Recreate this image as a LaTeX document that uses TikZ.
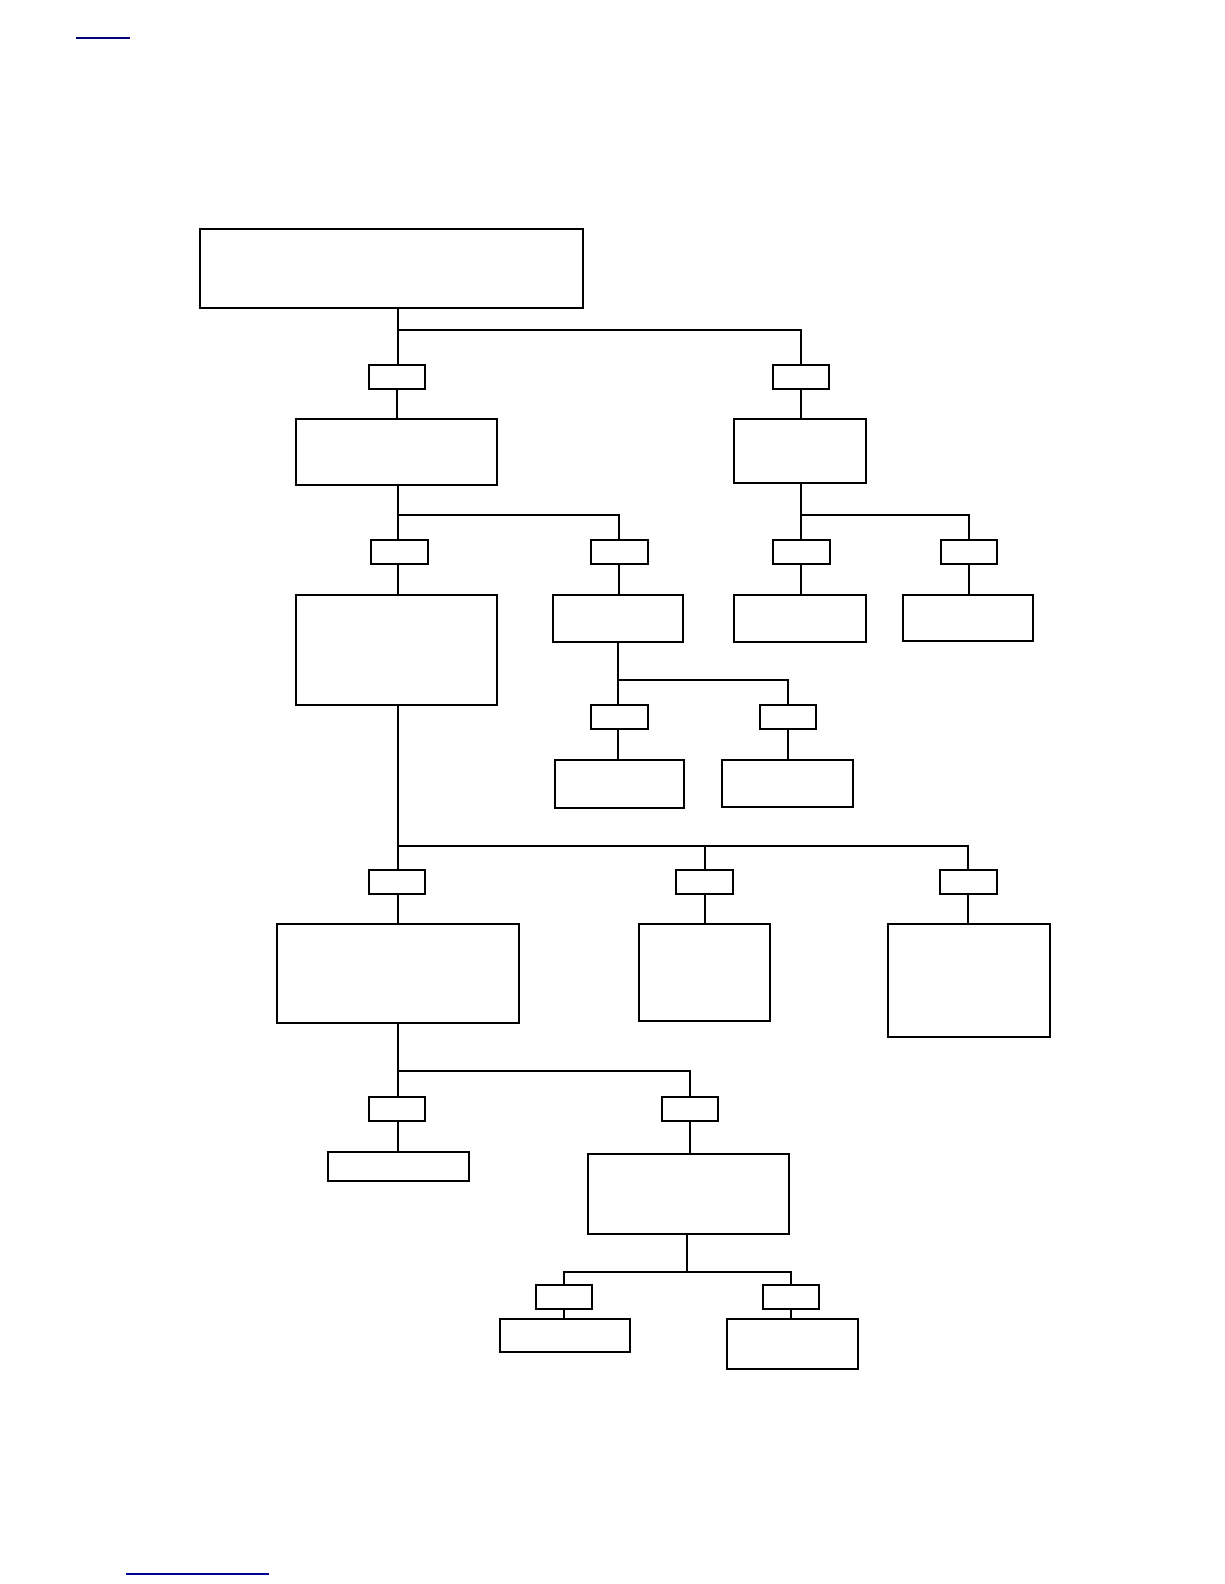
\documentclass[tikz,border=0pt]{standalone}
\usepackage{tikz}
\usetikzlibrary{positioning}

\begin{document}
\begin{tikzpicture}[
    x=0.50495pt, y=-0.50495pt,
    box/.style 2 args={draw, line width=1pt, inner sep=0pt, minimum width=#1*0.50495pt, minimum height=#2*0.50495pt},
    tag/.style={box={56}{24}},
    link/.style={line width=1pt},
    under/.style={line width=1pt, draw=#1}
]
\useasboundingbox (0,0) rectangle (1212,1568);
% underlines of the two links
\draw[under={blue!45!black}] (75,38) -- (129,38);
\draw[under={blue!60!black}] (125,1558) -- (266,1558);

% root and first split
\node[box={379}{78}] (root) at (387.5,266) {};
\node[tag] (t1) at (393,373) {};
\node[tag] (t2) at (793,373) {};
\node[box={199}{65}] (b1) at (392.5,447.5) {};
\node[box={130}{63}] (b2) at (792,446.5) {};
\coordinate (f0) at (394,327);
\draw[link] (root.south -| f0) -- (f0) -| (t2.north);
\draw[link] (f0) -- (t1.north -| f0);
\draw[link] (t1.south) -- (t1.south |- b1.north);
\draw[link] (t2.south) -- (t2.south |- b2.north);

% under b1 and b2
\node[tag] (t11) at (395.5,546.5) {};
\node[tag] (t12) at (613,546.5) {};
\node[tag] (t21) at (793.5,546.5) {};
\node[tag] (t22) at (959,546.5) {};
\node[box={199}{109}] (b11) at (392.5,643.5) {};
\node[box={129}{47}] (b12) at (611.5,612.5) {};
\node[box={130}{47}] (b21) at (792,612.5) {};
\node[box={129}{46}] (b22) at (958.5,612) {};
\coordinate (f1) at (394,510);
\coordinate (f2) at (793,510);
\draw[link] (b1.south -| f1) -- (f1) -| (t12.north);
\draw[link] (f1) -- (t11.north -| f1);
\draw[link] (b2.south -| f2) -- (f2) -| (t22.north);
\draw[link] (f2) -- (t21.north -| f2);
\draw[link] (t11.south -| f1) -- (b11.north -| f1);
\draw[link] (t12.south) -- (t12.south |- b12.north);
\draw[link] (t21.south -| f2) -- (b21.north -| f2);
\draw[link] (t22.south) -- (t22.south |- b22.north);

% under b12
\node[tag] (t121) at (613,710) {};
\node[tag] (t122) at (780,710) {};
\node[box={128}{48}] (b121) at (613,776) {};
\node[box={129}{47}] (b122) at (779.5,775.5) {};
\coordinate (f3) at (612,673);
\draw[link] (b12.south -| f3) -- (f3) -| (t122.north);
\draw[link] (f3) -- (t121.north -| f3);
\draw[link] (t121.south -| f3) -- (b121.north -| f3);
\draw[link] (t122.south) -- (t122.south |- b122.north);

% under b11
\node[tag] (t111) at (393,873) {};
\node[tag] (t112) at (697.5,873) {};
\node[tag] (t113) at (958.5,873) {};
\node[box={240}{98}] (b111) at (394,964) {};
\node[box={129}{96}] (b112) at (697.5,963) {};
\node[box={160}{112}] (b113) at (959,971) {};
\coordinate (f4) at (394,837);
\draw[link] (b11.south -| f4) -- (f4) -| (t113.north);
\draw[link] (f4) -- (t111.north -| f4);
\draw[link] (t112.north) -- (t112.north |- f4);
\draw[link] (t111.south -| f4) -- (b111.north -| f4);
\draw[link] (t112.south) -- (b112.north);
\draw[link] (t113.south) -- (t113.south |- b113.north);

% under b111
\node[tag] (t1111) at (393,1097.5) {};
\node[tag] (t1112) at (683,1097.5) {};
\node[box={139}{29}] (b1111) at (394.5,1154.5) {};
\node[box={199}{80}] (b1112) at (681.5,1182) {};
\coordinate (f5) at (394,1060);
\draw[link] (b111.south -| f5) -- (f5) -| (t1112.north);
\draw[link] (f5) -- (t1111.north -| f5);
\draw[link] (t1111.south -| f5) -- (b1111.north -| f5);
\draw[link] (t1112.south) -- (t1112.south |- b1112.north);

% under b1112
\node[tag] (t11121) at (558.5,1284) {};
\node[tag] (t11122) at (783,1284) {};
\node[box={129}{32}] (b11121) at (559.5,1322) {};
\node[box={129}{49}] (b11122) at (784.5,1330.5) {};
\coordinate (f6) at (680,1259);
\draw[link] (b1112.south -| f6) -- (f6) -| (t11122.north);
\draw[link] (f6) -| (t11121.north);
\draw[link] (t11121.south) -- (t11121.south |- b11121.north);
\draw[link] (t11122.south) -- (t11122.south |- b11122.north);
\end{tikzpicture}
\end{document}
